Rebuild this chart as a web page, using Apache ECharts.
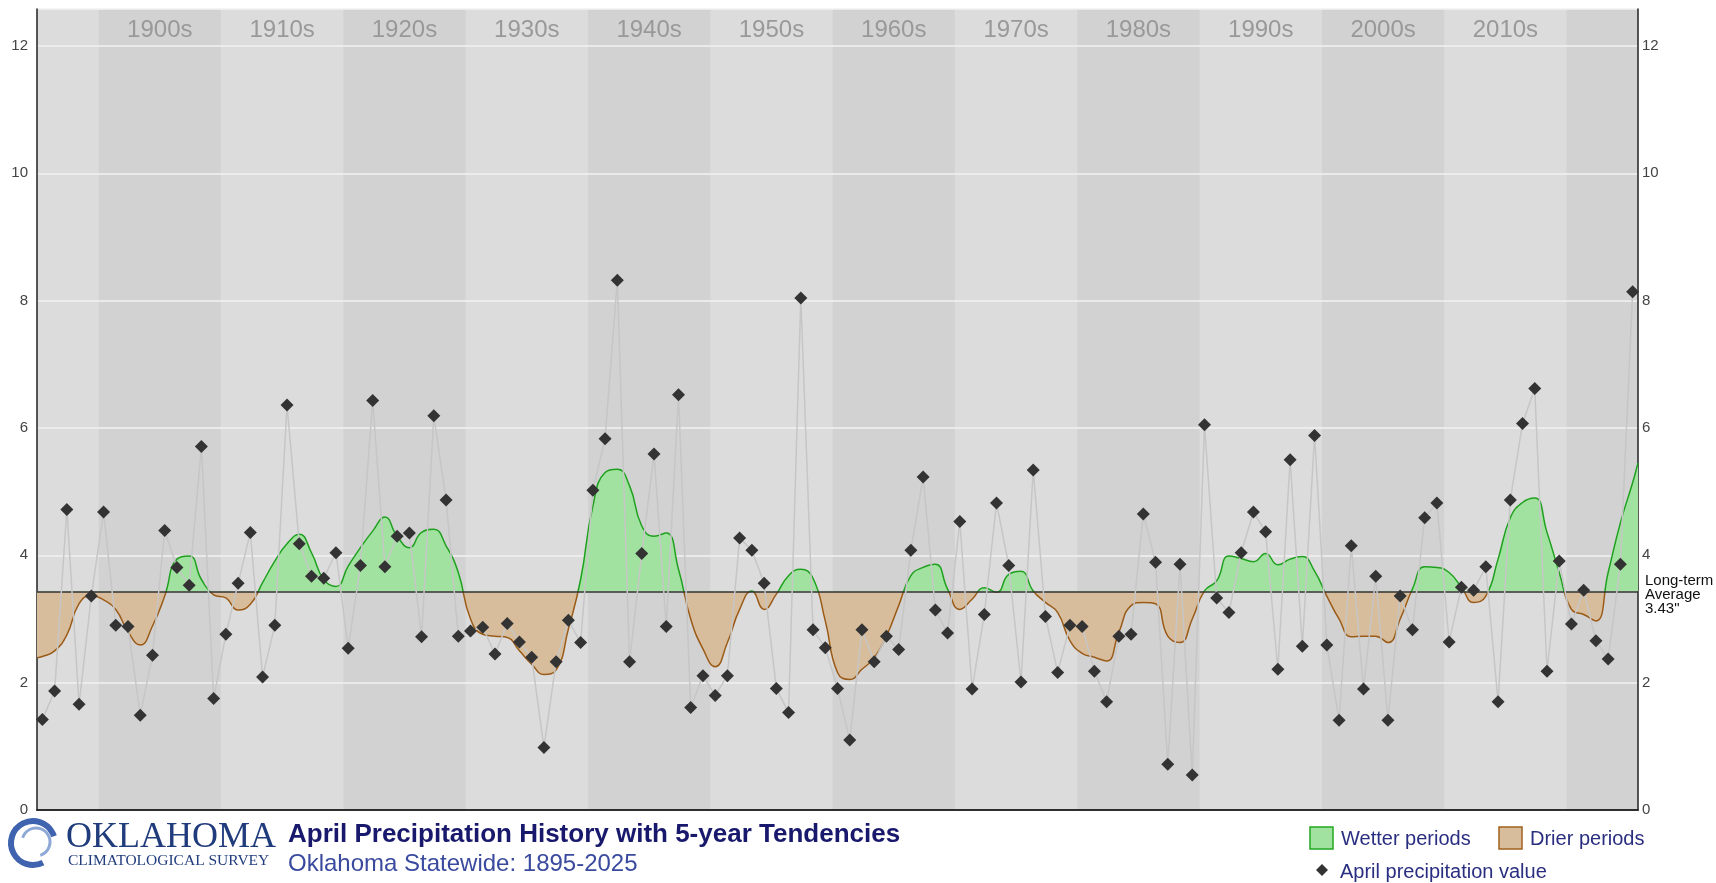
<!DOCTYPE html>
<html>
<head>
<meta charset="utf-8">
<title>April Precipitation History with 5-year Tendencies</title>
<script src="https://cdn.jsdelivr.net/npm/echarts@6/dist/echarts.min.js"></script>
<style>
  html, body { margin: 0; padding: 0; background: #fff; }
  #chart { width: 1716px; height: 883px; }
</style>
</head>
<body>
<div id="chart"></div>
<script>
// April statewide precipitation (inches), 1895-2025
const firstYear = 1895
const precip = [
  1.42, 1.87, 4.72, 1.66, 3.36,
  4.68, 2.90, 2.88, 1.49, 2.43, 4.39, 3.81, 3.53, 5.71, 1.75,
  2.76, 3.56, 4.36, 2.09, 2.90, 6.36, 4.18, 3.67, 3.64, 4.04,
  2.54, 3.84, 6.43, 3.82, 4.30, 4.35, 2.72, 6.19, 4.87, 2.73,
  2.81, 2.87, 2.45, 2.93, 2.64, 2.40, 0.98, 2.33, 2.98, 2.63,
  5.02, 5.83, 8.32, 2.33, 4.03, 5.59, 2.88, 6.52, 1.61, 2.11,
  1.80, 2.11, 4.27, 4.08, 3.56, 1.91, 1.53, 8.04, 2.83, 2.55,
  1.91, 1.10, 2.83, 2.33, 2.73, 2.52, 4.08, 5.23, 3.14, 2.78,
  4.53, 1.90, 3.07, 4.82, 3.84, 2.01, 5.34, 3.04, 2.16, 2.90,
  2.88, 2.18, 1.70, 2.73, 2.76, 4.65, 3.89, 0.72, 3.86, 0.55,
  6.05, 3.33, 3.10, 4.04, 4.68, 4.37, 2.21, 5.50, 2.57, 5.88,
  2.59, 1.41, 4.15, 1.90, 3.67, 1.41, 3.36, 2.83, 4.59, 4.82,
  2.64, 3.50, 3.45, 3.82, 1.70, 4.87, 6.07, 6.62, 2.18, 3.91,
  2.92, 3.45, 2.66, 2.37, 3.86, 8.14
]

// 5-year tendency curve, read at each year
const tendency = [
  2.41, 2.50, 2.75, 3.24, 3.37,
  3.30, 3.15, 2.80, 2.59, 2.89, 3.36, 3.94, 3.99, 3.62, 3.38,
  3.33, 3.14, 3.23, 3.57, 3.91, 4.18, 4.33, 4.04, 3.62, 3.51,
  3.83, 4.12, 4.38, 4.60, 4.30, 4.12, 4.36, 4.41, 4.15, 3.73,
  3.00, 2.76, 2.73, 2.71, 2.50, 2.29, 2.13, 2.20, 2.84, 3.62,
  4.77, 5.30, 5.35, 5.09, 4.46, 4.30, 4.35, 3.78, 3.00, 2.53,
  2.25, 2.63, 3.15, 3.44, 3.15, 3.39, 3.68, 3.78, 3.64, 2.97,
  2.16, 2.05, 2.21, 2.39, 2.73, 3.21, 3.68, 3.81, 3.86, 3.47,
  3.15, 3.31, 3.49, 3.42, 3.70, 3.75, 3.44, 3.26, 3.10, 2.66,
  2.46, 2.40, 2.34, 2.79, 3.21, 3.26, 3.24, 2.73, 2.63, 3.00,
  3.44, 3.60, 3.99, 3.95, 3.90, 4.03, 3.85, 3.94, 3.98, 3.75,
  3.36, 3.00, 2.72, 2.73, 2.73, 2.63, 3.00, 3.47, 3.82, 3.81,
  3.73, 3.50, 3.26, 3.36, 3.94, 4.59, 4.83, 4.90, 4.36, 3.73,
  3.15, 3.07, 2.97, 3.73, 4.51, 5.14
]
// where the curve meets the left and right plot edges
const tendencyEdges = [2.39, 5.45]

const longTermAvg = 3.43
const decadeStarts = [1900, 1910, 1920, 1930, 1940, 1950, 1960, 1970, 1980, 1990, 2000, 2010, 2020]
const decadeLabels = ['1900s', '1910s', '1920s', '1930s', '1940s', '1950s', '1960s', '1970s', '1980s', '1990s', '2000s', '2010s', '']
const yTicks = [0, 2, 4, 6, 8, 10, 12]

const xMin = 1894.56
const xMax = 2025.44

const years = precip.map((v, i) => firstYear + i)
const precipPoints = years.map((y, i) => [y, precip[i]])
const tendPoints = [[xMin, tendencyEdges[0]]]
  .concat(years.map((y, i) => [y, tendency[i]]))
  .concat([[xMax, tendencyEdges[1]]])

const bandDark = '#d2d2d2'
const bands = decadeStarts.map((d, i) => [
  {
    name: decadeLabels[i],
    xAxis: d - 0.4,
    itemStyle: { color: i % 2 === 0 ? bandDark : 'rgba(0,0,0,0)' }
  },
  { xAxis: Math.min(d + 9.6, xMax) }
])

const font = 'Liberation Sans, Arial, sans-serif'
const serif = 'Liberation Serif, Times New Roman, serif'

const yAxisBase = {
  type: 'value',
  min: 0,
  max: 12.58,
  interval: 2,
  z: 1.5,
  axisLine: { show: true, lineStyle: { color: '#222', width: 1.5 } },
  axisTick: { show: false },
  axisLabel: {
    color: '#444',
    fontSize: 15,
    fontFamily: font,
    formatter: v => (yTicks.indexOf(v) >= 0 ? String(v) : '')
  }
}

const option = {
  animation: false,
  backgroundColor: '#fff',
  grid: {
    left: 37, right: 78, top: 9, bottom: 73,
    show: true, backgroundColor: '#dcdcdc', borderWidth: 0
  },
  xAxis: [
    {
      type: 'value', min: xMin, max: xMax, position: 'bottom', z: 1.5,
      axisLine: { show: true, lineStyle: { color: '#222', width: 1.5 } },
      axisTick: { show: false }, axisLabel: { show: false }, splitLine: { show: false }
    },
    {
      type: 'value', min: xMin, max: xMax, position: 'top', z: 1.5,
      axisLine: { show: true, lineStyle: { color: '#222', width: 1.5 } },
      axisTick: { show: false }, axisLabel: { show: false }, splitLine: { show: false }
    }
  ],
  yAxis: [
    Object.assign({}, yAxisBase, {
      position: 'left',
      axisLabel: Object.assign({}, yAxisBase.axisLabel, { margin: 9 }),
      splitLine: { show: true, lineStyle: { color: '#f2f2f2', width: 1.5 } }
    }),
    Object.assign({}, yAxisBase, {
      position: 'right',
      axisLabel: Object.assign({}, yAxisBase.axisLabel, { margin: 4 }),
      splitLine: { show: false }
    })
  ],
  visualMap: [
    {
      show: false, seriesIndex: 1, dimension: 1,
      pieces: [
        { gte: 0, lt: longTermAvg, color: '#d8bd9d' },
        { gte: longTermAvg, lte: 13, color: '#a2e2a0' }
      ]
    },
    {
      show: false, seriesIndex: 2, dimension: 1,
      pieces: [
        { gte: 0, lt: longTermAvg, color: '#9a5b18' },
        { gte: longTermAvg, lte: 13, color: '#1fa01f' }
      ]
    }
  ],
  series: [
    // decade bands
    {
      type: 'line',
      data: tendPoints,
      z: 1,
      silent: true,
      showSymbol: false,
      lineStyle: { width: 0, opacity: 0 },
      markArea: {
        silent: true,
        label: {
          show: true,
          position: 'insideTop',
          distance: 9,
          color: '#999',
          fontSize: 24,
          fontFamily: font
        },
        data: bands
      }
    },
    // wetter / drier fill
    {
      type: 'line',
      data: tendPoints,
      z: 2,
      smooth: 0.5,
      showSymbol: false,
      silent: true,
      lineStyle: { width: 0 },
      areaStyle: { origin: longTermAvg, opacity: 1 },
      markLine: {
        silent: true,
        symbol: 'none',
        lineStyle: { color: '#333', width: 1.5, type: 'solid' },
        label: {
          show: true,
          position: 'end',
          distance: 7,
          offset: [0, 3],
          formatter: 'Long-term\nAverage\n3.43"',
          color: '#111',
          fontSize: 15,
          lineHeight: 14,
          fontFamily: font
        },
        data: [{ yAxis: longTermAvg }]
      }
    },
    // tendency outline
    {
      type: 'line',
      data: tendPoints,
      z: 4,
      smooth: 0.5,
      showSymbol: false,
      silent: true,
      lineStyle: { width: 1.5 }
    },
    // yearly values
    {
      type: 'line',
      data: precipPoints,
      z: 5,
      symbol: 'diamond',
      symbolSize: 13,
      showAllSymbol: true,
      itemStyle: { color: '#333' },
      lineStyle: { color: '#c6c6c6', width: 1.5 }
    }
  ],
  graphic: [
    // logo
    {
      type: 'arc', z: 10,
      shape: { cx: 33, cy: 843, r: 22, startAngle: Math.PI * 0.35, endAngle: Math.PI * 1.9 },
      style: { stroke: '#3f63ae', lineWidth: 6, fill: null }
    },
    {
      type: 'arc', z: 10,
      shape: { cx: 36, cy: 842, r: 14, startAngle: Math.PI * 1.1, endAngle: Math.PI * 2.4 },
      style: { stroke: '#8ea8d6', lineWidth: 3, fill: null }
    },
    {
      type: 'text', z: 10, left: 66, top: 820,
      style: { text: 'OKLAHOMA', font: '36px ' + serif, fill: '#203c7c' }
    },
    {
      type: 'text', z: 10, left: 68, top: 853,
      style: { text: 'CLIMATOLOGICAL SURVEY', font: '15.5px ' + serif, fill: '#203c7c' }
    },
    // titles
    {
      type: 'text', z: 10, left: 288, top: 822,
      style: { text: 'April Precipitation History with 5-year Tendencies', font: 'bold 26px ' + font, fill: '#18186c' }
    },
    {
      type: 'text', z: 10, left: 288, top: 852,
      style: { text: 'Oklahoma Statewide: 1895-2025', font: '24px ' + font, fill: '#3a4a9e' }
    },
    // legend
    {
      type: 'rect', z: 10,
      shape: { x: 1310, y: 827, width: 23, height: 22 },
      style: { fill: '#a2e2a0', stroke: '#22a822', lineWidth: 1.5 }
    },
    {
      type: 'text', z: 10, left: 1341, top: 829,
      style: { text: 'Wetter periods', font: '20px ' + font, fill: '#2a2e80' }
    },
    {
      type: 'rect', z: 10,
      shape: { x: 1499, y: 827, width: 23, height: 22 },
      style: { fill: '#d8bd9d', stroke: '#a0601e', lineWidth: 1.5 }
    },
    {
      type: 'text', z: 10, left: 1530, top: 829,
      style: { text: 'Drier periods', font: '20px ' + font, fill: '#2a2e80' }
    },
    {
      type: 'polygon', z: 10,
      shape: { points: [[1322, 864], [1328, 870], [1322, 876], [1316, 870]] },
      style: { fill: '#333' }
    },
    {
      type: 'text', z: 10, left: 1340, top: 862,
      style: { text: 'April precipitation value', font: '20px ' + font, fill: '#2a2e80' }
    }
  ]
}

const chart = echarts.init(document.getElementById('chart'))
chart.setOption(option)
</script>
</body>
</html>
